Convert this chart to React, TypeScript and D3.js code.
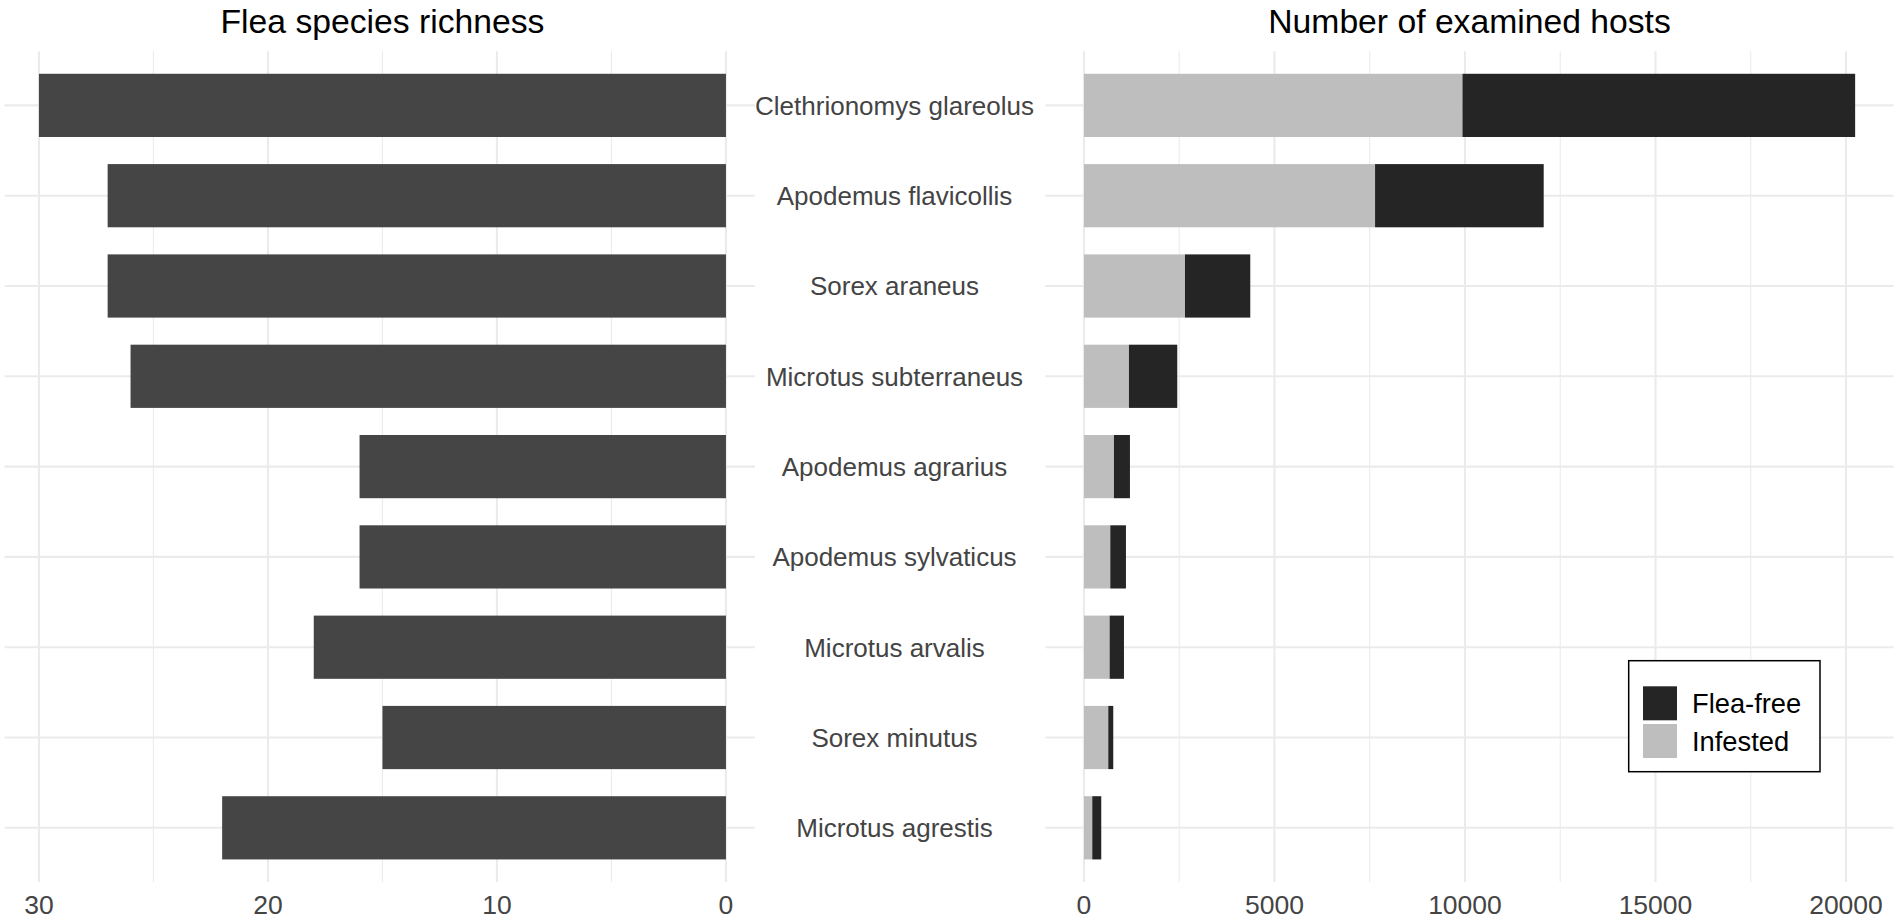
import React from "react";
import * as d3 from "d3";

const species = [
  "Clethrionomys glareolus",
  "Apodemus flavicollis",
  "Sorex araneus",
  "Microtus subterraneus",
  "Apodemus agrarius",
  "Apodemus sylvaticus",
  "Microtus arvalis",
  "Sorex minutus",
  "Microtus agrestis",
];
const richness = [30, 27, 27, 26, 16, 16, 18, 15, 22];
const infested = [9934, 7640, 2651, 1181, 787, 691, 674, 638, 218];
const fleaFree = [10306, 4426, 1714, 1268, 420, 411, 376, 131, 236];

const leftTicks = [30, 20, 10, 0];
const leftMinor = [25, 15, 5];
const rightTicks = [0, 5000, 10000, 15000, 20000];
const rightMinor = [2500, 7500, 12500, 17500];

const legendItems = [
  { label: "Flea-free", color: "#252525" },
  { label: "Infested", color: "#BEBEBE" },
];

const FONT = "'Liberation Sans', Arial, Helvetica, sans-serif";
const GRID = "#EBEBEB";

export default function App() {
  const W = 1900, H = 920;
  const top = 51.2, bottom = 882;
  const y = d3.scalePoint<string>().domain(species).range([top, bottom]).padding(0.6);
  const bh = y.step() * 0.7;

  const xL = d3.scaleLinear().domain([-1.5, 31.5]).range([760.3, 4.6]);
  const xR = d3.scaleLinear().domain([-1012, 21252]).range([1045.4, 1893.7]);

  const rows = species.map((s, i) => ({
    s,
    r: richness[i],
    inf: infested[i],
    free: fleaFree[i],
  }));

  return (
    <svg
      width={W}
      height={H}
      style={{ position: "absolute", left: 0, top: 0, background: "#fff" }}
      fontFamily={FONT}
    >
      <rect width={W} height={H} fill="#fff" />
      {/* grid: left */}
      {leftMinor.map((t) => (
        <line key={"lm" + t} x1={xL(t)} x2={xL(t)} y1={top} y2={bottom} stroke={GRID} strokeWidth={1.1} />
      ))}
      {leftTicks.map((t) => (
        <line key={"lM" + t} x1={xL(t)} x2={xL(t)} y1={top} y2={bottom} stroke={GRID} strokeWidth={2.1} />
      ))}
      {rightMinor.map((t) => (
        <line key={"rm" + t} x1={xR(t)} x2={xR(t)} y1={top} y2={bottom} stroke={GRID} strokeWidth={1.1} />
      ))}
      {rightTicks.map((t) => (
        <line key={"rM" + t} x1={xR(t)} x2={xR(t)} y1={top} y2={bottom} stroke={GRID} strokeWidth={2.1} />
      ))}
      {species.map((s) => (
        <g key={"hg" + s}>
          <line x1={xL.range()[1]} x2={755} y1={y(s)} y2={y(s)} stroke={GRID} strokeWidth={2.1} />
          <line x1={xR.range()[0]} x2={xR.range()[1]} y1={y(s)} y2={y(s)} stroke={GRID} strokeWidth={2.1} />
        </g>
      ))}

      {/* left bars */}
      {rows.map((d) => (
        <rect
          key={"lb" + d.s}
          x={xL(d.r)}
          width={xL(0) - xL(d.r)}
          y={(y(d.s) as number) - bh / 2}
          height={bh}
          fill="#454545"
        />
      ))}

      {/* right stacked bars */}
      {rows.map((d) => (
        <g key={"rb" + d.s}>
          <rect
            x={xR(0)}
            width={xR(d.inf) - xR(0)}
            y={(y(d.s) as number) - bh / 2}
            height={bh}
            fill="#BEBEBE"
          />
          <rect
            x={xR(d.inf)}
            width={xR(d.inf + d.free) - xR(d.inf)}
            y={(y(d.s) as number) - bh / 2}
            height={bh}
            fill="#252525"
          />
        </g>
      ))}

      {/* category labels */}
      {species.map((s) => (
        <text
          key={"cl" + s}
          x={894.5}
          y={(y(s) as number) + 9.3}
          textAnchor="middle"
          fontSize={26}
          fill="#444"
        >
          {s}
        </text>
      ))}

      {/* x tick labels */}
      {leftTicks.map((t) => (
        <text key={"lt" + t} x={xL(t)} y={913.5} textAnchor="middle" fontSize={26.5} fill="#444">
          {t}
        </text>
      ))}
      {rightTicks.map((t) => (
        <text key={"rt" + t} x={xR(t)} y={913.5} textAnchor="middle" fontSize={26.5} fill="#444">
          {t}
        </text>
      ))}

      {/* titles */}
      <text x={(xL.range()[0] + xL.range()[1]) / 2} y={33} textAnchor="middle" fontSize={33.7} fill="#000">
        Flea species richness
      </text>
      <text x={(xR.range()[0] + xR.range()[1]) / 2} y={33} textAnchor="middle" fontSize={33.7} fill="#000">
        Number of examined hosts
      </text>

      {/* legend */}
      <rect x={1628.7} y={660.7} width={191.3} height={111} fill="#fff" stroke="#000" strokeWidth={1.5} />
      {legendItems.map((it, i) => (
        <g key={"lg" + it.label}>
          <rect x={1643} y={686.3 + i * 37.7} width={34} height={34} fill={it.color} />
          <text x={1692} y={713.3 + i * 37.4} fontSize={27.3} fill="#000">
            {it.label}
          </text>
        </g>
      ))}
    </svg>
  );
}
